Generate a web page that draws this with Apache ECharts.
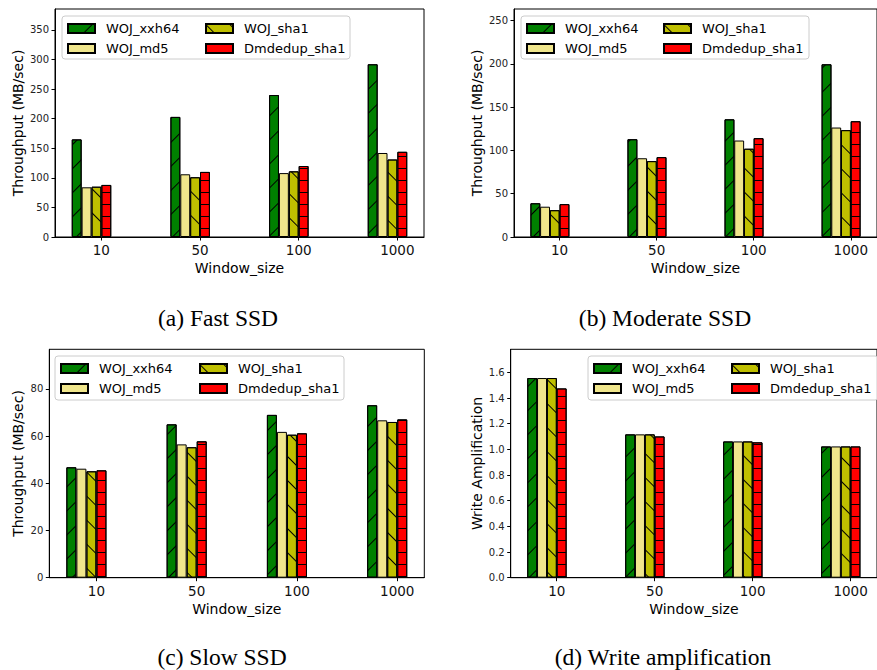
<!DOCTYPE html>
<html><head><meta charset="utf-8">
<script src="https://cdn.jsdelivr.net/npm/echarts@6/dist/echarts.min.js"></script>
<style>html,body{margin:0;padding:0;background:#fff}#c{width:877px;height:670px}</style>
</head><body><div id="c"></div>
<script>
// ---------- data ----------
const categories = ['10', '50', '100', '1000'];
const seriesNames = ['WOJ_xxh64', 'WOJ_md5', 'WOJ_sha1', 'Dmdedup_sha1'];

const fastXxh64 = [165, 203, 240, 292];
const fastMd5 = [84, 106, 108, 142];
const fastSha1 = [85, 101, 111, 131];
const fastDmdedup = [88, 110, 120, 144];

const modXxh64 = [39, 113, 136, 199.6];
const modMd5 = [35, 91, 111.5, 126.5];
const modSha1 = [31, 87.7, 102, 123.5];
const modDmdedup = [38, 92.3, 114.2, 133.8];

const slowXxh64 = [46.8, 65, 69, 73.1];
const slowMd5 = [46.2, 56.5, 61.8, 66.7];
const slowSha1 = [45.1, 55.3, 60.6, 66];
const slowDmdedup = [45.5, 57.8, 61.2, 67.1];

const waXxh64 = [1.556, 1.117, 1.062, 1.023];
const waMd5 = [1.556, 1.117, 1.062, 1.023];
const waSha1 = [1.556, 1.117, 1.062, 1.023];
const waDmdedup = [1.475, 1.101, 1.055, 1.023];

const fastTicks = [0, 50, 100, 150, 200, 250, 300, 350];
const modTicks = [0, 50, 100, 150, 200, 250];
const slowTicks = [0, 20, 40, 60, 80];
const waTicks = [0, 0.2, 0.4, 0.6, 0.8, 1.0, 1.2, 1.4, 1.6];

const fastYMax = 385.4;
const modYMax = 263.5;
const slowYMax = 96.8;
const waYMax = 1.78;

const captions = ['(a) Fast SSD', '(b) Moderate SSD', '(c) Slow SSD', '(d) Write amplification'];
const yNames = ['Throughput (MB/sec)', 'Throughput (MB/sec)', 'Throughput (MB/sec)', 'Write Amplification'];
const xName = 'Window_size';

// ---------- styles / layout ----------
const FONT = 'DejaVu Sans';
const colors = ['#008000', '#F0E68C', '#BFBF00', '#FF0000'];
const hatch = [
  {symbol: 'rect', symbolSize: 1, color: '#000', dashArrayX: [1, 0], dashArrayY: [1, 16], rotation: -Math.PI / 4},
  null,
  {symbol: 'rect', symbolSize: 1, color: '#000', dashArrayX: [1, 0], dashArrayY: [1, 16], rotation: Math.PI / 4},
  {symbol: 'rect', symbolSize: 1, color: '#000', dashArrayX: [1, 0], dashArrayY: [1, 11], rotation: 0}
];
const barOffsets = [-0.25, -0.15, -0.05, 0.05];
const xMin = -0.47, xMax = 3.27;

const panels = [
  {values: [fastXxh64, fastMd5, fastSha1, fastDmdedup], ticks: fastTicks, ymax: fastYMax, dec: 0,
   grid: {left: 55, top: 9, width: 369, height: 228}, barW: 9.9, nameGap: 30,
   leg: [67, 205], legTop: 21, box: [62, 16, 288, 43], cap: [218, 306]},
  {values: [modXxh64, modMd5, modSha1, modDmdedup], ticks: modTicks, ymax: modYMax, dec: 0,
   grid: {left: 514, top: 9, width: 369, height: 228}, barW: 9.9, nameGap: 30,
   leg: [526, 663], legTop: 21, box: [521, 16, 288, 43], cap: [665, 306]},
  {values: [slowXxh64, slowMd5, slowSha1, slowDmdedup], ticks: slowTicks, ymax: slowYMax, dec: 0,
   grid: {left: 49.3, top: 349.3, width: 375, height: 228.4}, barW: 10, nameGap: 24,
   leg: [60, 199], legTop: 361, box: [55, 356, 289, 44], cap: [222, 645]},
  {values: [waXxh64, waMd5, waSha1, waDmdedup], ticks: waTicks, ymax: waYMax, dec: 1,
   grid: {left: 510.7, top: 349.3, width: 375, height: 228.4}, barW: 10, nameGap: 27,
   leg: [593, 731], legTop: 361, box: [588, 356, 290, 44], cap: [663, 645]}
];

const option = {
  animation: false,
  backgroundColor: '#fff',
  textStyle: {fontFamily: FONT},
  grid: [], xAxis: [], yAxis: [], series: [], legend: [], title: [], graphic: []
};

panels.forEach((p, pi) => {
  option.grid.push(Object.assign({show: true, borderColor: '#000', borderWidth: 1, backgroundColor: 'transparent'}, p.grid));
  option.xAxis.push({
    gridIndex: pi, type: 'value', min: xMin, max: xMax,
    name: xName, nameLocation: 'middle', nameGap: 24,
    nameTextStyle: {fontSize: 14, color: '#000', fontFamily: FONT},
    axisLine: {show: true, onZero: false, lineStyle: {color: '#000', width: 1}},
    axisTick: {show: true, length: 3.5, lineStyle: {color: '#000'}, customValues: [0, 1, 2, 3]},
    axisLabel: {fontSize: 13.5, color: '#111', margin: 6, fontFamily: FONT, customValues: [0, 1, 2, 3],
      formatter: v => categories[Math.round(v)]},
    splitLine: {show: false}
  });
  option.yAxis.push({
    gridIndex: pi, type: 'value', min: 0, max: p.ymax,
    name: yNames[pi], nameLocation: 'middle', nameGap: p.nameGap,
    nameTextStyle: {fontSize: 14, color: '#000', fontFamily: FONT},
    axisLine: {show: true, onZero: false, lineStyle: {color: '#000', width: 1}},
    axisTick: {show: true, length: 3.5, lineStyle: {color: '#000'}, customValues: p.ticks},
    axisLabel: {fontSize: 10, color: '#222', margin: 6, fontFamily: FONT, customValues: p.ticks,
      formatter: v => v.toFixed(p.dec)},
    splitLine: {show: false}
  });
  seriesNames.forEach((name, si) => {
    const itemStyle = {color: colors[si], borderColor: '#000', borderWidth: 1};
    if (hatch[si]) itemStyle.decal = hatch[si];
    option.series.push({
      type: 'bar', name: name, xAxisIndex: pi, yAxisIndex: pi,
      barWidth: p.barW, barGap: '-100%',
      itemStyle: itemStyle,
      data: p.values[si].map((v, i) => [i + barOffsets[si], v])
    });
  });
  [[seriesNames[0], seriesNames[1]], [seriesNames[2], seriesNames[3]]].forEach((d, li) => {
    option.legend.push({
      data: d, orient: 'vertical', left: p.leg[li], top: p.legTop, padding: 0,
      itemGap: 5, itemWidth: 27, itemHeight: 9, icon: 'rect', z: 5,
      selectedMode: false,
      textStyle: {fontSize: 13, color: '#000', fontFamily: FONT, lineHeight: 15, padding: [0, 0, 0, 6]}
    });
  });
  option.graphic.push({
    type: 'rect', z: 4, silent: true,
    shape: {x: p.box[0], y: p.box[1], width: p.box[2], height: p.box[3], r: 3},
    style: {fill: 'rgba(255,255,255,0.8)', stroke: '#cccccc', lineWidth: 1}
  });
  option.title.push({
    text: captions[pi], left: p.cap[0], top: p.cap[1], textAlign: 'center', padding: 0,
    textStyle: {fontFamily: 'Liberation Serif', fontSize: 23.5, fontWeight: 'normal', color: '#000'}
  });
});

const chart = echarts.init(document.getElementById('c'), null, {renderer: 'svg', width: 877, height: 670});
chart.setOption(option);
</script>
</body></html>
